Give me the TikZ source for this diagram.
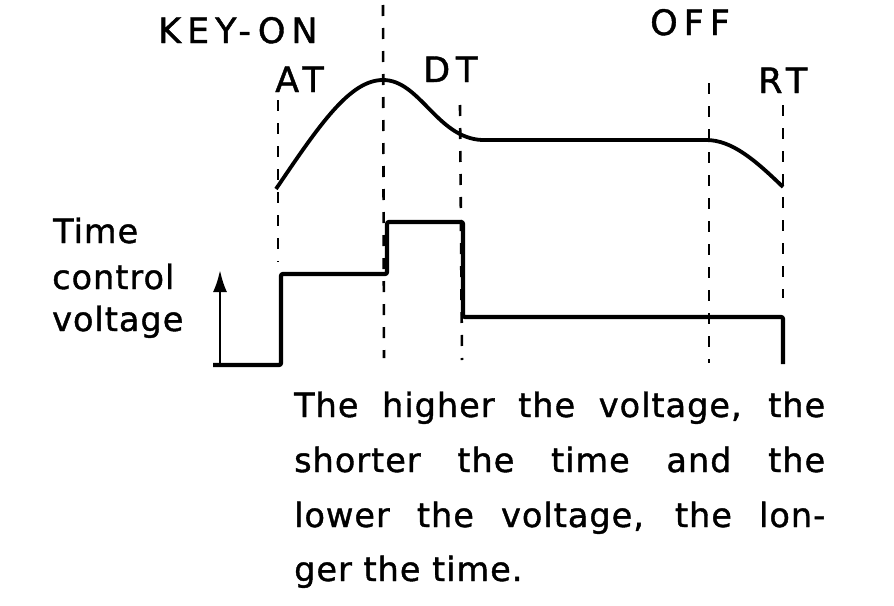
\documentclass[tikz,border=0pt]{standalone}
\usepackage{fontspec}
\setmainfont{DejaVu Sans}
\usetikzlibrary{arrows.meta}
\newfontfamily\lblfont[LetterSpace=17,FakeBold=1.2]{DejaVu Sans}
\newfontfamily\txtfont[LetterSpace=3,FakeBold=1.2]{DejaVu Sans}
\tikzset{
  guide/.style={line width=2.6pt, dash pattern=on 11pt off 12pt},
  wave/.style={line width=3.8pt, line join=round},
  stepwave/.style={line width=4.2pt, rounded corners=2pt},
  lbl/.style={font=\lblfont\fontsize{35}{35}\selectfont, inner sep=0pt, anchor=base west},
  txt/.style={font=\txtfont\fontsize{33.5}{33.5}\selectfont, inner sep=0pt, anchor=base west},
  axisarrow/.style={line width=2.6pt, -{Latex[length=22pt,width=14pt]}}
}
\begin{document}
\begin{tikzpicture}[x=1pt,y=-1pt]
\useasboundingbox (0,0) rectangle (894,605);
% labels
\node[lbl] (keyon) at (158,43) {KEY-ON};
\node[lbl] (off) at (650,35) {OFF};
\node[lbl] (at) at (275,92) {AT};
\node[lbl] (dt) at (423,82) {DT};
\node[lbl] (rt) at (758,93) {RT};
% guide coordinates
\coordinate (g1t) at (278,100); \coordinate (g1b) at (278,262);
\coordinate (g2t) at (383,5);   \coordinate (g2b) at (384,358);
\coordinate (g3t) at (460,105); \coordinate (g3b) at (462,360);
\coordinate (g4t) at (709,83);  \coordinate (g4b) at (709,363);
\coordinate (g5t) at (783,105); \coordinate (g5b) at (783,298);
\draw[guide] (g1t) -- (g1b);
\draw[guide] (g2t) -- (g2b);
\draw[guide] (g3t) -- (g3b);
\draw[guide] (g4t) -- (g4b);
\draw[guide] (g5t) -- (g5b);
% envelope
\coordinate (e0) at (276,189);
\coordinate (e1) at (383,80);
\coordinate (e2) at (482,140);
\coordinate (e3) at (706,140);
\coordinate (e4) at (783,187);
\draw[wave] (e0) .. controls (320,124) and (350,80) .. (e1)
  .. controls (420,80) and (437,138) .. (e2) -- (e3)
  .. controls (732,140) and (755,160) .. (e4);
% step waveform
\coordinate (s0) at (213,365);
\coordinate (s1) at (281,365);
\coordinate (s2) at (281,274);
\coordinate (s3) at (387,274);
\coordinate (s4) at (387,222);
\coordinate (s5) at (463,222);
\coordinate (s6) at (463,317);
\coordinate (s7) at (783,317);
\coordinate (s8) at (783,364);
\draw[stepwave] (s0) -- (s1) -- (s2) -- (s3) -- (s4) -- (s5) -- (s6) -- (s7) -- (s8);
% axis arrow
\coordinate (a0) at (220,365);
\coordinate (a1) at (220,270);
\draw[axisarrow] (a0) -- (a1);
% left label
\node[txt] (l1) at (53,243) {Time};
\node[txt] (l2) at (52,289) {control};
\node[txt] (l3) at (52,331) {voltage};
% bottom text
\node[txt] (b1) at (294,417) {\makebox[531pt][s]{The higher the voltage, the}};
\node[txt] (b2) at (294,472) {\makebox[531pt][s]{shorter the time and the}};
\node[txt] (b3) at (294,527) {\makebox[531pt][s]{lower the voltage, the lon-}};
\node[txt] (b4) at (294,581) {ger the time.};
\end{tikzpicture}
\end{document}
